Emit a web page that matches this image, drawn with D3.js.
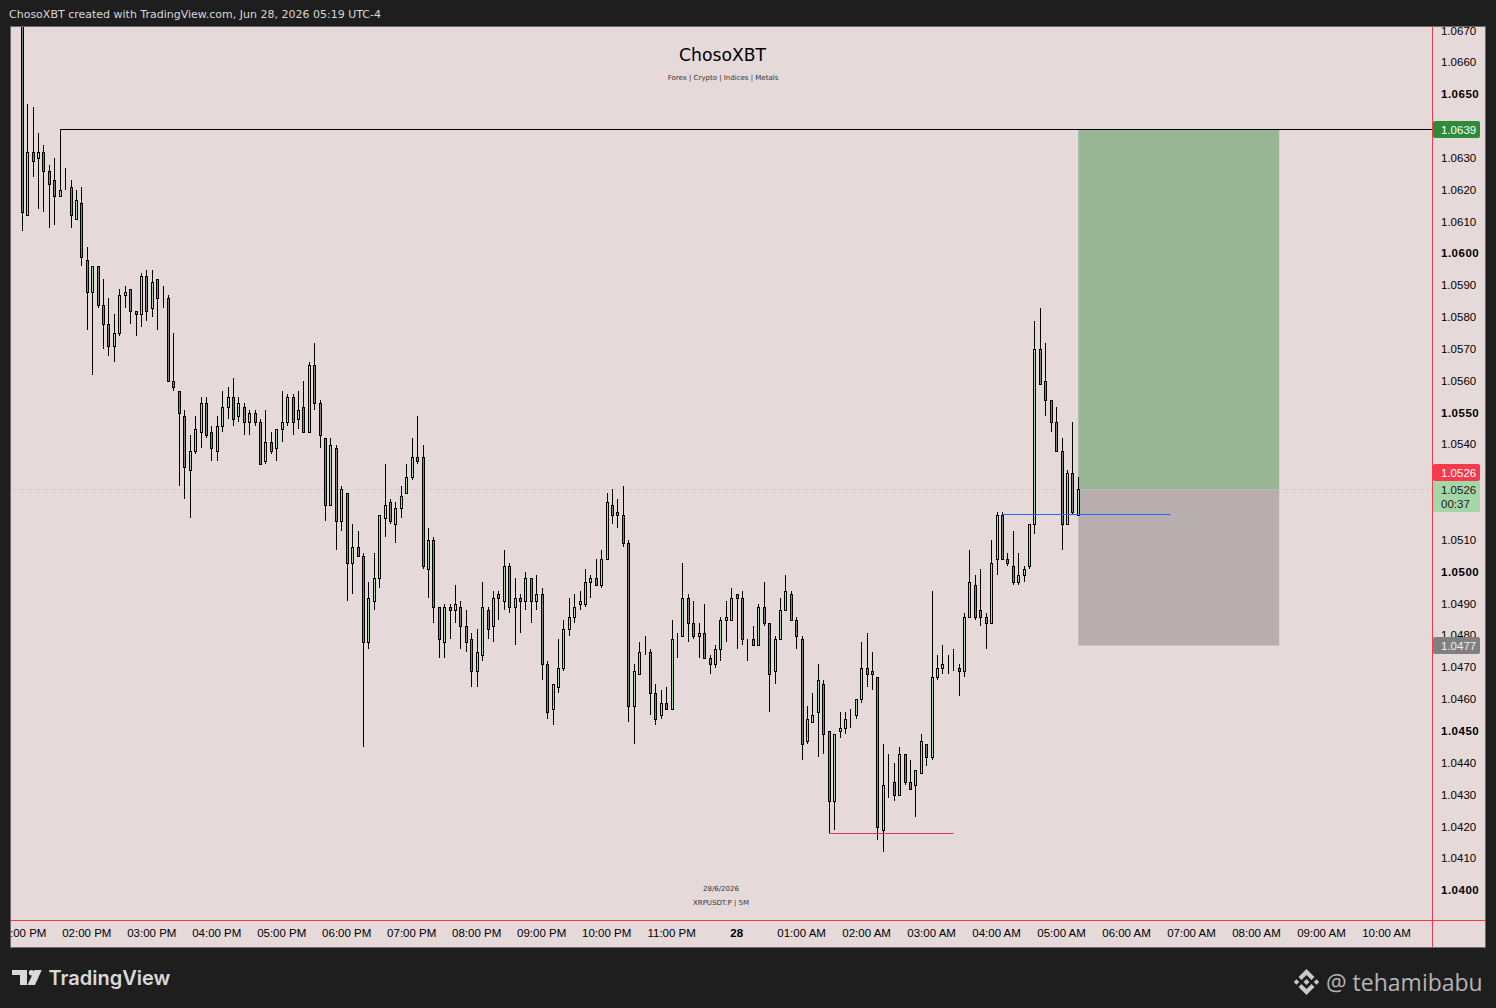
<!DOCTYPE html>
<html>
<head>
<meta charset="utf-8">
<script src="https://cdnjs.cloudflare.com/ajax/libs/d3/7.8.5/d3.min.js"></script>
<style>
html, body { margin: 0; padding: 0; background: #1e1e1e; overflow: hidden; }
svg { display: block; }
text { font-family: "DejaVu Sans", sans-serif; }
</style>
</head>
<body>
<svg id="chart" width="1496" height="1008"></svg>
<script>
// CANDLES, XRPUSDT.P 5M, ONE ROW PER HOUR
var opens = [
1.0680,1.0612,1.0632,1.0630,1.0632,1.0626,1.0623,1.0618,1.0621,1.0621,1.0611,1.0616,
1.0598,1.0588,1.0596,1.0584,1.0578,1.0571,1.0575,1.0587,1.0589,1.0582,1.0581,1.0593,
1.0583,1.0592,1.0586,1.0586,1.0560,1.0557,1.0549,1.0532,1.0538,1.0544,1.0553,1.0544,
1.0538,1.0546,1.0552,1.0555,1.0549,1.0552,1.0547,1.0550,1.0547,1.0535,1.0541,1.0539,
1.0545,1.0547,1.0555,1.0548,1.0552,1.0544,1.0565,1.0553,1.0542,1.0521,1.0539,1.0516,
1.0525,1.0503,1.0508,1.0505,1.0478,1.0491,1.0498,1.0517,1.0522,1.0515,1.0520,1.0525,
1.0530,1.0536,1.0536,1.0501,1.0510,1.0489,1.0478,1.0489,1.0488,1.0489,1.0483,1.0479,
1.0469,1.0474,1.0488,1.0483,1.0493,1.0491,1.0502,1.0489,1.0492,1.0491,1.0498,1.0491,
1.0493,1.0471,1.0457,1.0464,1.0470,1.0482,1.0486,1.0490,1.0490,1.0497,1.0498,1.0496,
1.0504,1.0521,1.0519,1.0518,1.0509,1.0458,1.0468,1.0475,1.0475,1.0462,1.0455,1.0459,
1.0457,1.0480,1.0480,1.0492,1.0484,1.0480,1.0481,1.0473,1.0471,1.0476,1.0485,1.0485,
1.0493,1.0492,1.0478,1.0479,1.0477,1.0489,1.0484,1.0469,1.0479,1.0488,1.0493,1.0485,
1.0479,1.0447,1.0453,1.0456,1.0465,1.0450,1.0428,1.0450,1.0451,1.0455,1.0455,1.0460,
1.0470,1.0469,1.0467,1.0419,1.0433,1.0434,1.0430,1.0443,1.0434,1.0433,1.0437,1.0446,
1.0442,1.0467,1.0470,1.0471,1.0471,1.0470,1.0469,1.0486,1.0496,1.0488,1.0486,1.0484,
1.0504,1.0518,1.0504,1.0502,1.0497,1.0499,1.0502,1.0515,1.0570,1.0560,1.0554,1.0547,
1.0538,1.0515,1.0531,1.0518];
var highs = [
1.0690,1.0647,1.0646,1.0638,1.0634,1.0628,1.0630,1.0639,1.0627,1.0623,1.0620,1.0621,
1.0602,1.0596,1.0596,1.0592,1.0586,1.0581,1.0589,1.0590,1.0589,1.0582,1.0594,1.0595,
1.0595,1.0592,1.0590,1.0587,1.0575,1.0557,1.0551,1.0543,1.0549,1.0555,1.0555,1.0546,
1.0549,1.0557,1.0558,1.0561,1.0555,1.0553,1.0551,1.0551,1.0548,1.0551,1.0544,1.0545,
1.0557,1.0556,1.0556,1.0557,1.0560,1.0566,1.0572,1.0554,1.0542,1.0542,1.0540,1.0527,
1.0525,1.0515,1.0513,1.0506,1.0497,1.0506,1.0518,1.0534,1.0523,1.0522,1.0527,1.0534,
1.0542,1.0549,1.0540,1.0514,1.0511,1.0489,1.0490,1.0490,1.0496,1.0491,1.0488,1.0481,
1.0482,1.0497,1.0489,1.0494,1.0494,1.0507,1.0503,1.0498,1.0493,1.0500,1.0498,1.0499,
1.0495,1.0472,1.0465,1.0479,1.0485,1.0492,1.0493,1.0494,1.0501,1.0499,1.0504,1.0507,
1.0525,1.0526,1.0523,1.0527,1.0510,1.0471,1.0478,1.0480,1.0476,1.0465,1.0463,1.0464,
1.0485,1.0481,1.0503,1.0493,1.0491,1.0484,1.0490,1.0474,1.0477,1.0486,1.0491,1.0495,
1.0493,1.0494,1.0479,1.0483,1.0490,1.0497,1.0484,1.0480,1.0492,1.0499,1.0494,1.0486,
1.0480,1.0458,1.0462,1.0471,1.0466,1.0450,1.0449,1.0456,1.0456,1.0457,1.0460,1.0478,
1.0481,1.0475,1.0467,1.0446,1.0443,1.0440,1.0445,1.0443,1.0441,1.0438,1.0449,1.0446,
1.0494,1.0474,1.0477,1.0474,1.0476,1.0471,1.0487,1.0507,1.0499,1.0501,1.0487,1.0510,
1.0519,1.0519,1.0506,1.0513,1.0506,1.0502,1.0515,1.0579,1.0583,1.0572,1.0554,1.0552,
1.0542,1.0532,1.0547,1.0530];
var lows = [
1.0607,1.0612,1.0624,1.0614,1.0613,1.0608,1.0609,1.0618,1.0620,1.0608,1.0611,1.0596,
1.0576,1.0562,1.0583,1.0570,1.0568,1.0566,1.0574,1.0583,1.0578,1.0574,1.0577,1.0579,
1.0580,1.0576,1.0583,1.0560,1.0557,1.0527,1.0523,1.0517,1.0537,1.0539,1.0542,1.0535,
1.0535,1.0544,1.0548,1.0546,1.0547,1.0543,1.0543,1.0546,1.0534,1.0534,1.0537,1.0535,
1.0541,1.0546,1.0543,1.0545,1.0544,1.0544,1.0551,1.0539,1.0516,1.0521,1.0507,1.0513,
1.0491,1.0493,1.0505,1.0445,1.0476,1.0488,1.0495,1.0511,1.0515,1.0509,1.0517,1.0525,
1.0529,1.0534,1.0501,1.0492,1.0484,1.0473,1.0473,1.0479,1.0484,1.0476,1.0475,1.0464,
1.0464,1.0472,1.0479,1.0478,1.0485,1.0488,1.0487,1.0477,1.0481,1.0488,1.0484,1.0488,
1.0466,1.0454,1.0452,1.0462,1.0469,1.0480,1.0484,1.0488,1.0489,1.0492,1.0496,1.0495,
1.0504,1.0515,1.0514,1.0508,1.0453,1.0446,1.0468,1.0474,1.0455,1.0452,1.0454,1.0457,
1.0457,1.0473,1.0480,1.0478,1.0479,1.0473,1.0473,1.0468,1.0470,1.0472,1.0478,1.0485,
1.0476,1.0477,1.0472,1.0477,1.0477,1.0483,1.0456,1.0465,1.0479,1.0488,1.0485,1.0476,
1.0441,1.0446,1.0453,1.0442,1.0443,1.0418,1.0419,1.0448,1.0449,1.0451,1.0454,1.0459,
1.0464,1.0463,1.0416,1.0412,1.0429,1.0428,1.0430,1.0433,1.0432,1.0423,1.0437,1.0439,
1.0441,1.0466,1.0468,1.0468,1.0469,1.0461,1.0467,1.0486,1.0485,1.0483,1.0476,1.0484,
1.0499,1.0504,1.0502,1.0496,1.0496,1.0497,1.0501,1.0512,1.0559,1.0549,1.0544,1.0538,
1.0507,1.0515,1.0518,1.0518];
var closes = [
1.0613,1.0632,1.0629,1.0632,1.0626,1.0622,1.0618,1.0620,1.0621,1.0612,1.0617,1.0599,
1.0588,1.0596,1.0584,1.0578,1.0571,1.0575,1.0587,1.0588,1.0582,1.0581,1.0593,1.0582,
1.0591,1.0586,1.0586,1.0560,1.0558,1.0550,1.0533,1.0538,1.0545,1.0553,1.0543,1.0539,
1.0546,1.0552,1.0555,1.0548,1.0553,1.0547,1.0550,1.0547,1.0534,1.0541,1.0538,1.0545,
1.0547,1.0555,1.0547,1.0551,1.0544,1.0565,1.0553,1.0543,1.0521,1.0540,1.0516,1.0526,
1.0503,1.0508,1.0505,1.0478,1.0492,1.0498,1.0518,1.0521,1.0516,1.0520,1.0524,1.0530,
1.0536,1.0535,1.0502,1.0510,1.0489,1.0479,1.0489,1.0488,1.0490,1.0483,1.0478,1.0469,
1.0475,1.0489,1.0482,1.0492,1.0492,1.0502,1.0489,1.0492,1.0491,1.0498,1.0491,1.0493,
1.0471,1.0456,1.0465,1.0470,1.0482,1.0486,1.0489,1.0491,1.0497,1.0498,1.0496,1.0504,
1.0522,1.0518,1.0518,1.0509,1.0458,1.0469,1.0475,1.0475,1.0462,1.0454,1.0459,1.0457,
1.0479,1.0480,1.0492,1.0484,1.0480,1.0481,1.0473,1.0471,1.0476,1.0485,1.0486,1.0492,
1.0492,1.0479,1.0478,1.0477,1.0489,1.0484,1.0468,1.0479,1.0488,1.0494,1.0485,1.0480,
1.0446,1.0454,1.0455,1.0466,1.0449,1.0428,1.0449,1.0451,1.0454,1.0455,1.0460,1.0470,
1.0468,1.0468,1.0420,1.0433,1.0433,1.0430,1.0443,1.0434,1.0432,1.0438,1.0447,1.0442,
1.0467,1.0470,1.0471,1.0471,1.0471,1.0469,1.0486,1.0497,1.0486,1.0486,1.0484,1.0503,
1.0518,1.0504,1.0503,1.0497,1.0499,1.0501,1.0515,1.0570,1.0559,1.0554,1.0547,1.0538,
1.0515,1.0531,1.0519,1.0526];

// AXES
var priceTicks = d3.range(1.04, 1.0671, 0.001);
var hourLabels = ["01:00 PM","02:00 PM","03:00 PM","04:00 PM","05:00 PM","06:00 PM","07:00 PM","08:00 PM","09:00 PM","10:00 PM","11:00 PM","28","01:00 AM","02:00 AM","03:00 AM","04:00 AM","05:00 AM","06:00 AM","07:00 AM","08:00 AM","09:00 AM","10:00 AM"];
var barsPerHour = 12;

// DRAWINGS
var resistance = 1.0639;
var resistanceBar = 7;
var target = 1.0639, entry = 1.0526, stop = 1.0477;
var positionBars = [195, 232.1];
var blueLevel = 1.0518, blueBars = [181, 212];
var redLevel = 1.0418, redBars = [149, 172];

var svg = d3.select("#chart");

var pane = { left: 11, right: 1485, top: 27, bottom: 947, plotRight: 1432, plotBottom: 920 };
var x = d3.scaleLinear().domain([0, 195]).range([22.3, 1078.3]);
var y = d3.scaleLinear().domain([1.04, 1.065]).range([890.5, 94.5]);
var axisFont = "Liberation Sans";

// ONE PIXEL ROW FOR A LEVEL
function row(v) {
    return Math.floor(y(v)) + 0.5;
}

// ONE PIXEL COLUMN FOR A BAR
function col(i) {
    return Math.floor(x(i)) + 0.5;
}

var defs = svg.append("defs");
defs.append("clipPath").attr("id", "plotClip").append("rect")
    .attr("x", pane.left).attr("y", pane.top)
    .attr("width", pane.plotRight - pane.left).attr("height", pane.plotBottom - pane.top);
defs.append("clipPath").attr("id", "priceClip").append("rect")
    .attr("x", pane.plotRight).attr("y", pane.top)
    .attr("width", pane.right - pane.plotRight).attr("height", pane.plotBottom - pane.top);
defs.append("clipPath").attr("id", "timeClip").append("rect")
    .attr("x", pane.left).attr("y", pane.plotBottom)
    .attr("width", pane.plotRight - pane.left).attr("height", pane.bottom - pane.plotBottom);

// PANE
svg.append("rect").attr("x", pane.left - 1).attr("y", pane.top - 1)
    .attr("width", pane.right - pane.left + 2).attr("height", pane.bottom - pane.top + 2)
    .attr("fill", "#6b6b6b");
svg.append("rect").attr("x", pane.left).attr("y", pane.top)
    .attr("width", pane.right - pane.left).attr("height", pane.bottom - pane.top)
    .attr("fill", "#e6d9d9");

var plot = svg.append("g").attr("clip-path", "url(#plotClip)");

// POSITION BOX
plot.append("rect")
    .attr("x", x(positionBars[0])).attr("y", row(target))
    .attr("width", x(positionBars[1]) - x(positionBars[0]))
    .attr("height", row(entry) - row(target))
    .attr("fill", "#98b693");
plot.append("rect")
    .attr("x", x(positionBars[0])).attr("y", row(entry))
    .attr("width", x(positionBars[1]) - x(positionBars[0]))
    .attr("height", row(stop) - row(entry))
    .attr("fill", "#b8aeae");

// LAST PRICE LINE
plot.append("line")
    .attr("x1", pane.left).attr("x2", pane.plotRight)
    .attr("y1", row(entry)).attr("y2", row(entry))
    .attr("stroke", "#a5d6a7").attr("stroke-dasharray", "1 3");

// RESISTANCE
plot.append("line")
    .attr("x1", x(resistanceBar)).attr("x2", pane.plotRight)
    .attr("y1", row(resistance)).attr("y2", row(resistance))
    .attr("stroke", "#000");

// CANDLES
var candles = d3.range(opens.length);
var wicks = plot.append("g").selectAll("line").data(candles).enter().append("line")
    .attr("x1", function(i) { return col(i); })
    .attr("x2", function(i) { return col(i); })
    .attr("y1", function(i) { return Math.round(y(highs[i])); })
    .attr("y2", function(i) { return Math.round(y(lows[i])); })
    .attr("stroke", "#000");
var bodies = plot.append("g").selectAll("rect").data(candles).enter().append("rect")
    .attr("x", function(i) { return col(i) - 1; })
    .attr("y", function(i) { return Math.round(y(Math.max(opens[i], closes[i]))) + 0.5; })
    .attr("width", 2)
    .attr("height", function(i) { return Math.abs(Math.round(y(opens[i])) - Math.round(y(closes[i]))); })
    .attr("fill", function(i) { return closes[i] > opens[i] ? "#a5d6a7" : "#808080"; })
    .attr("stroke", "#000");

// LEVEL LINES
plot.append("line")
    .attr("x1", x(blueBars[0])).attr("x2", x(blueBars[1]))
    .attr("y1", row(blueLevel)).attr("y2", row(blueLevel))
    .attr("stroke", "#2962ff").attr("stroke-width", 1.2);
plot.append("line")
    .attr("x1", x(redBars[0])).attr("x2", x(redBars[1]))
    .attr("y1", row(redLevel)).attr("y2", row(redLevel))
    .attr("stroke", "#c9404f");

// WATERMARK
plot.append("text").attr("x", 722.5).attr("y", 60.5).attr("text-anchor", "middle")
    .attr("font-size", 17.2).attr("fill", "#000").text("ChosoXBT");
plot.append("text").attr("x", 723).attr("y", 80).attr("text-anchor", "middle")
    .attr("font-size", 7).attr("fill", "#333").text("Forex | Crypto | Indices | Metals");
plot.append("text").attr("x", 721).attr("y", 891).attr("text-anchor", "middle")
    .attr("font-size", 7).attr("fill", "#333").text("28/6/2026");
plot.append("text").attr("x", 721).attr("y", 905).attr("text-anchor", "middle")
    .attr("font-size", 7).attr("fill", "#333").text("XRPUSDT.P | 5M");

// PANE SEPARATORS
svg.append("line").attr("x1", pane.plotRight + 0.5).attr("x2", pane.plotRight + 0.5)
    .attr("y1", pane.top).attr("y2", pane.bottom).attr("stroke", "#f7394d");
svg.append("line").attr("x1", pane.left).attr("x2", pane.right)
    .attr("y1", pane.plotBottom + 0.5).attr("y2", pane.plotBottom + 0.5).attr("stroke", "#f7394d");

// PRICE AXIS
var priceAxis = d3.axisRight(y)
    .tickValues(priceTicks)
    .tickSize(0)
    .tickPadding(0)
    .tickFormat(d3.format(".4f"));
var priceG = svg.append("g")
    .attr("clip-path", "url(#priceClip)")
    .append("g")
    .attr("transform", "translate(1441,-0.5)")
    .call(priceAxis);
priceG.select(".domain").remove();
priceG.selectAll("text")
    .attr("font-size", 11.5)
    .attr("style", "font-family: '" + axisFont + "'")
    .attr("fill", "#000")
    .attr("font-weight", function(d) { return Math.round(d * 10000) % 50 == 0 ? "bold" : "normal"; })
    .attr("letter-spacing", function(d) { return Math.round(d * 10000) % 50 == 0 ? 0.5 : 0; });

// TIME AXIS
var timeAxis = d3.axisBottom(x)
    .tickValues(hourLabels.map(function(d, i) { return i * barsPerHour; }))
    .tickSize(0)
    .tickPadding(0)
    .tickFormat(function(d) { return hourLabels[d / barsPerHour]; });
var timeG = svg.append("g")
    .attr("clip-path", "url(#timeClip)")
    .append("g")
    .attr("transform", "translate(-1,929)")
    .call(timeAxis);
timeG.select(".domain").remove();
timeG.selectAll("text")
    .attr("font-size", 11.5)
    .attr("style", "font-family: '" + axisFont + "'")
    .attr("fill", "#000")
    .attr("font-weight", function(d) { return hourLabels[d / barsPerHour] == "28" ? "bold" : "normal"; });

// PRICE TAGS
function priceTag(top, height, fill, color, lines) {
    svg.append("rect").attr("x", pane.plotRight + 1).attr("y", top)
        .attr("width", 47).attr("height", height).attr("rx", 2).attr("fill", fill);
    lines.forEach(function(d, i) {
        svg.append("text").attr("x", 1441).attr("y", top + 12.5 + i * 14)
            .attr("font-size", 11.5).attr("style", "font-family: '" + axisFont + "'")
            .attr("fill", color).text(d);
    });
}
priceTag(121, 17, "#2e8b3a", "#fff", [d3.format(".4f")(target)]);
priceTag(464, 17, "#f7394d", "#fff", [d3.format(".4f")(entry)]);
priceTag(481, 31, "#a5d6a7", "#1b1b1b", [d3.format(".4f")(entry), "00:37"]);
priceTag(637, 17, "#808080", "#eee", [d3.format(".4f")(stop)]);

// HEADER
svg.append("text").attr("x", 9).attr("y", 18).attr("font-size", 11).attr("fill", "#d8d8d8")
    .text("ChosoXBT created with TradingView.com, Jun 28, 2026 05:19 UTC-4");

// TRADINGVIEW LOGO
var logo = svg.append("g").attr("fill", "#d9d9d9");
logo.append("path").attr("d", "M12 970H27V985H20V975H12Z");
logo.append("circle").attr("cx", 31.5).attr("cy", 972.7).attr("r", 2.7);
logo.append("path").attr("d", "M34.5 970H41.7L35 985H27.5Z");
logo.append("text").attr("x", 48.5).attr("y", 985).attr("font-size", 20).attr("font-weight", 600)
    .attr("style", "font-family: Inter, sans-serif").attr("fill", "#d9d9d9").text("TradingView");

// BINANCE MARK AND HANDLE
var mark = svg.append("g").attr("fill", "#c9c9c9").attr("transform", "translate(1306.5,982)");
mark.append("path").attr("d", "M0 -13L8 -5L5 -2L0 -7L-5 -2L-8 -5Z");
mark.append("path").attr("d", "M0 13L8 5L5 2L0 7L-5 2L-8 5Z");
mark.append("path").attr("d", "M0 -3L3 0L0 3L-3 0Z");
mark.append("path").attr("d", "M-10 -2.7L-7.3 0L-10 2.7L-12.7 0Z");
mark.append("path").attr("d", "M10 -2.7L12.7 0L10 2.7L7.3 0Z");
svg.append("text").attr("x", 1326).attr("y", 991).attr("font-size", 23)
    .attr("style", "font-family: 'Open Sans', sans-serif").attr("fill", "#b5b5b5")
    .text("@ tehamibabu");
</script>
</body>
</html>
